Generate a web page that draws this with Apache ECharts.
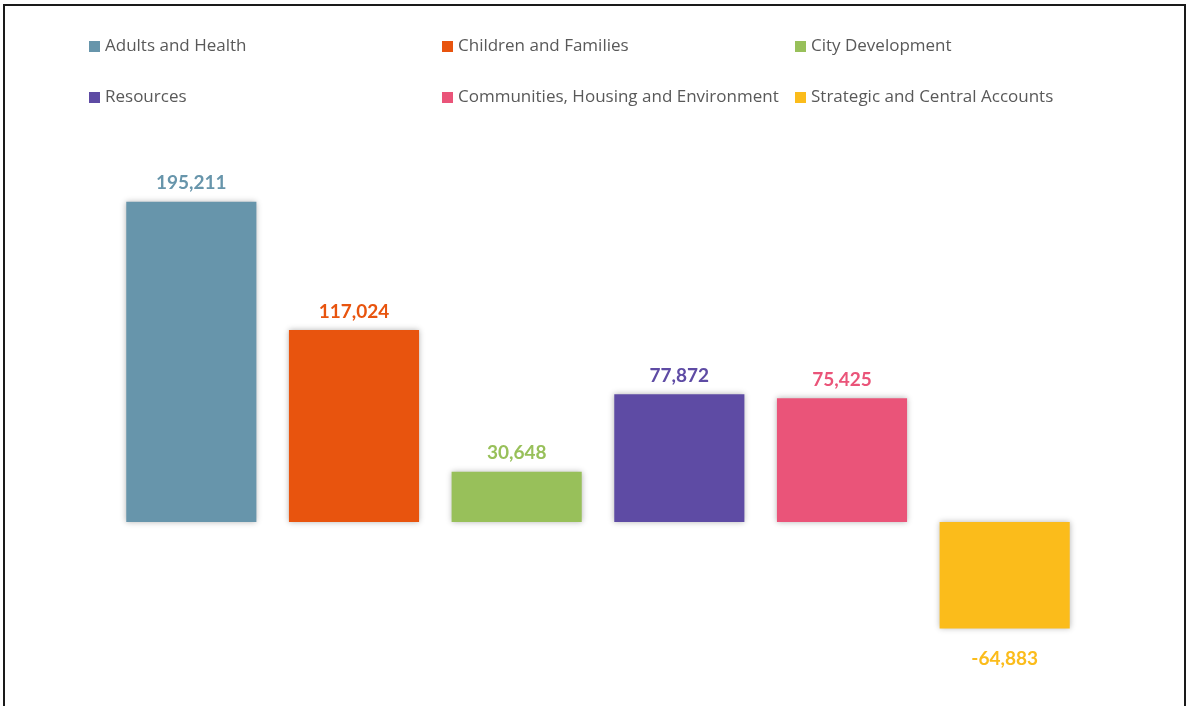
<!DOCTYPE html>
<html>
<head>
<meta charset="utf-8">
<script src="https://cdn.jsdelivr.net/npm/echarts@6/dist/echarts.min.js"></script>
<style>
html,body{margin:0;padding:0;background:#fff;overflow:hidden;}
#frame{position:absolute;left:3px;top:4px;width:1183px;height:720px;border:2px solid #1a1a1a;box-sizing:border-box;}
#chart{position:absolute;left:0;top:0;width:1190px;height:706px;}
</style>
</head>
<body>
<div id="frame"></div>
<div id="chart"></div>
<script>
const categories = ['Adults and Health','Children and Families','City Development','Resources','Communities, Housing and Environment','Strategic and Central Accounts'];
const values = [195211, 117024, 30648, 77872, 75425, -64883];
const colors = ['#6795AB','#E8540E','#98C05A','#5E4BA4','#EA5479','#FBBC1B'];
const legendPos = [[89,38],[442,38],[795,38],[89,89],[442,89],[795,89]];

const fmt = v => (v < 0 ? '-' : '') + Math.abs(v).toLocaleString('en-US');

const series = categories.map((name, i) => ({
  name: name,
  type: 'bar',
  stack: 'all',
  barWidth: '80%',
  data: categories.map((c, j) => j === i ? values[i] : '-'),
  itemStyle: {color: colors[i], shadowBlur: 6, shadowColor: 'rgba(0,0,0,0.3)', shadowOffsetX: 0, shadowOffsetY: 0},
  label: {
    show: true,
    position: values[i] < 0 ? 'bottom' : 'top',
    distance: values[i] < 0 ? 21 : 9,
    color: colors[i],
    fontFamily: 'Lato',
    fontWeight: 'bold',
    fontSize: 19,
    formatter: p => fmt(p.value)
  }
}));

const legends = categories.map((name, i) => ({
  data: [name],
  left: legendPos[i][0],
  top: legendPos[i][1],
  padding: 0,
  icon: 'rect',
  itemWidth: 11,
  itemHeight: 11,
  itemGap: 5,
  textStyle: {color: '#595959', fontFamily: 'Open Sans', fontSize: 17, padding: [1,0,0,0]},
  selectedMode: false
}));

const chart = echarts.init(document.getElementById('chart'), null, {renderer: 'canvas'});
chart.setOption({
  animation: false,
  legend: legends,
  grid: {left: 110, width: 976, top: 112, height: 574},
  xAxis: {type: 'category', data: categories, show: false},
  yAxis: {type: 'value', min: -100000, max: 250000, show: false},
  series: series
});
</script>
</body>
</html>
